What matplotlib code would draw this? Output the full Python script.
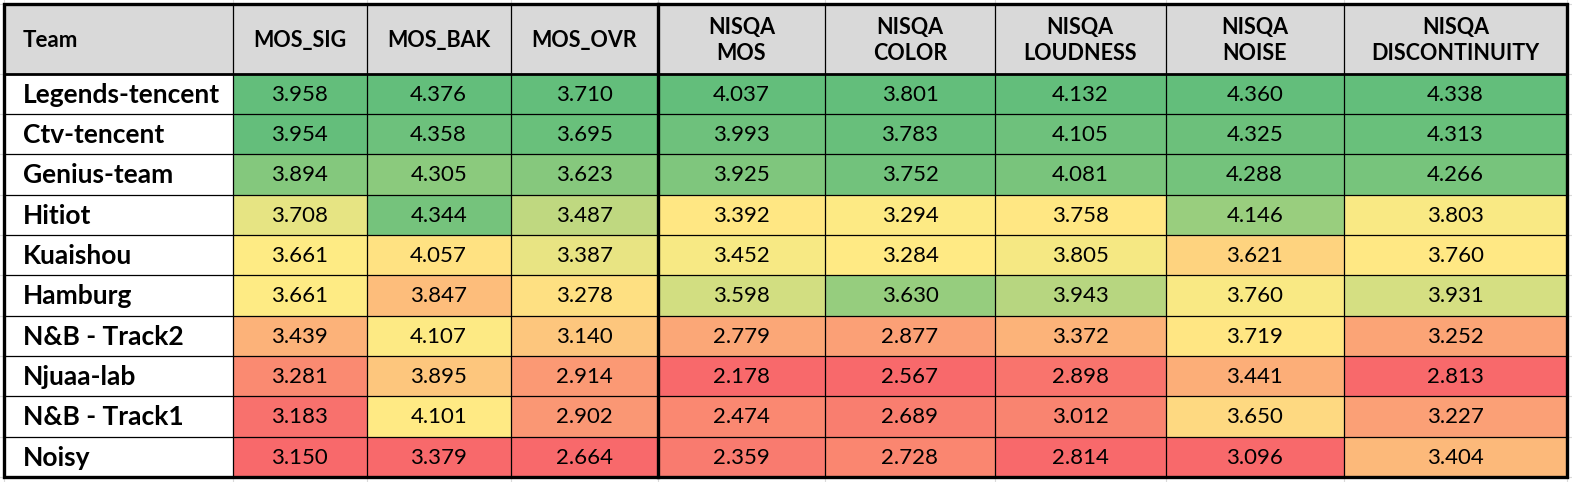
import matplotlib
matplotlib.use('Agg')
import matplotlib.pyplot as plt
import numpy as np
from matplotlib.colors import LinearSegmentedColormap, TwoSlopeNorm
from matplotlib.patches import Rectangle

# datos de la tabla
teams = ['Legends-tencent', 'Ctv-tencent', 'Genius-team', 'Hitiot', 'Kuaishou',
         'Hamburg', 'N&B - Track2', 'Njuaa-lab', 'N&B - Track1', 'Noisy']
headers = ['MOS_SIG', 'MOS_BAK', 'MOS_OVR', 'NISQA\nMOS', 'NISQA\nCOLOR',
           'NISQA\nLOUDNESS', 'NISQA\nNOISE', 'NISQA\nDISCONTINUITY']

mos_sig = [3.958, 3.954, 3.894, 3.708, 3.661, 3.661, 3.439, 3.281, 3.183, 3.150]
mos_bak = [4.376, 4.358, 4.305, 4.344, 4.057, 3.847, 4.107, 3.895, 4.101, 3.379]
mos_ovr = [3.710, 3.695, 3.623, 3.487, 3.387, 3.278, 3.140, 2.914, 2.902, 2.664]
nisqa_mos = [4.037, 3.993, 3.925, 3.392, 3.452, 3.598, 2.779, 2.178, 2.474, 2.359]
nisqa_color = [3.801, 3.783, 3.752, 3.294, 3.284, 3.630, 2.877, 2.567, 2.689, 2.728]
nisqa_loud = [4.132, 4.105, 4.081, 3.758, 3.805, 3.943, 3.372, 2.898, 3.012, 2.814]
nisqa_noise = [4.360, 4.325, 4.288, 4.146, 3.621, 3.760, 3.719, 3.441, 3.650, 3.096]
nisqa_disc = [4.338, 4.313, 4.266, 3.803, 3.760, 3.931, 3.252, 2.813, 3.227, 3.404]

columns = [mos_sig, mos_bak, mos_ovr, nisqa_mos, nisqa_color,
           nisqa_loud, nisqa_noise, nisqa_disc]

# escala de color tipo Excel (rojo - amarillo - verde)
cmap = LinearSegmentedColormap.from_list('excel', ['#F8696B', '#FFEB84', '#63BE7B'])

# posiciones en pixeles
W, H = 1572, 482
x_edges = [4, 233, 366.7, 510.7, 658, 825, 995, 1165.5, 1344, 1567]
y_top, y_head, y_bot = 4, 73.5, 477
n_rows = len(teams)
row_h = (y_bot - y_head) / n_rows
y_edges = [y_head + i * row_h for i in range(n_rows + 1)]

fig = plt.figure(figsize=(W / 100, H / 100), dpi=100)
ax = fig.add_axes([0, 0, 1, 1])
ax.set_xlim(0, W)
ax.set_ylim(H, 0)
ax.axis('off')

font = 'Lato'

# lineas grises de fondo (cuadricula de la hoja)
for x in x_edges:
    ax.axvline(x, color='#DADADA', lw=0.8, zorder=0)
for y in [y_top] + y_edges:
    ax.axhline(y, color='#DADADA', lw=0.8, zorder=0)

# cabecera
ax.add_patch(Rectangle((x_edges[0], y_top), x_edges[-1] - x_edges[0], y_head - y_top,
                       facecolor='#D9D9D9', edgecolor='none', zorder=1))
ax.text(23, (y_top + y_head) / 2 + 2, 'Team', ha='left', va='center', fontsize=16,
        fontweight='bold', family=font, zorder=3)
for j, h in enumerate(headers):
    xc = (x_edges[j + 1] + x_edges[j + 2]) / 2
    ax.text(xc, (y_top + y_head) / 2 + 2, h, ha='center', va='center', fontsize=15.5,
            fontweight='bold', family=font, linespacing=1.3, zorder=3)

# filas
for i, team in enumerate(teams):
    y0 = y_edges[i]
    yc = y0 + row_h / 2
    ax.add_patch(Rectangle((x_edges[0], y0), x_edges[1] - x_edges[0], row_h,
                           facecolor='white', edgecolor='none', zorder=1))
    ax.text(23, yc + 1, team, ha='left', va='center', fontsize=19,
            fontweight='bold', family=font, zorder=3)

for j, col in enumerate(columns):
    vals = np.array(col)
    norm = TwoSlopeNorm(vmin=vals.min(), vcenter=np.median(vals), vmax=vals.max())
    x0 = x_edges[j + 1]
    w = x_edges[j + 2] - x0
    for i, v in enumerate(vals):
        ax.add_patch(Rectangle((x0, y_edges[i]), w, row_h,
                               facecolor=cmap(norm(v)), edgecolor='none', zorder=1))
        ax.text(x0 + w / 2, y_edges[i] + row_h / 2 + 1, f'{v:.3f}', ha='center',
                va='center', fontsize=16, family=font, zorder=3)

# bordes
for y in y_edges[1:-1]:
    ax.plot([x_edges[0], x_edges[-1]], [y, y], color='black', lw=0.9, zorder=2)
for x in x_edges[1:-1]:
    ax.plot([x, x], [y_top, y_bot], color='black', lw=0.9, zorder=2)
ax.plot([x_edges[4], x_edges[4]], [y_top, y_bot], color='black', lw=2.4, zorder=2)
ax.plot([x_edges[0], x_edges[-1]], [y_head, y_head], color='black', lw=2.0, zorder=2)
ax.add_patch(Rectangle((x_edges[0], y_top), x_edges[-1] - x_edges[0], y_bot - y_top,
                       facecolor='none', edgecolor='black', lw=2.4, zorder=4))

fig.savefig('out.png', dpi=100)
